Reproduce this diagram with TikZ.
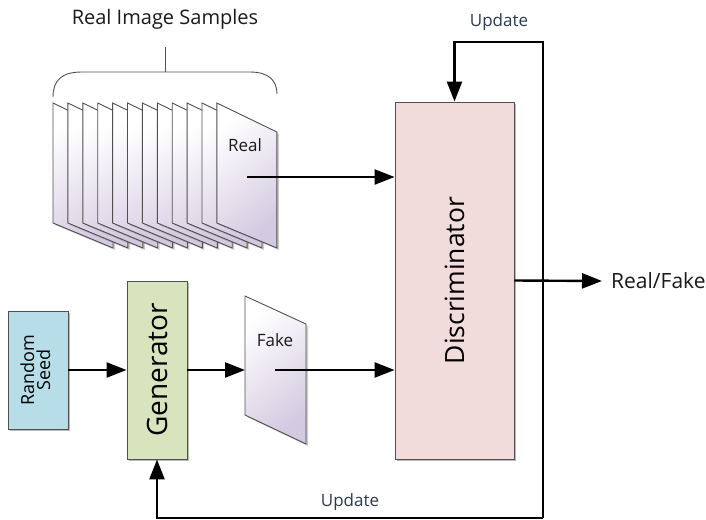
\documentclass[tikz,border=0pt]{standalone}
\usepackage{fontspec}
\setmainfont{Open Sans}
\usetikzlibrary{arrows.meta,shadows}
\definecolor{lav}{HTML}{D3C9E0}
\definecolor{discfill}{HTML}{F2DCDB}
\definecolor{genfill}{HTML}{D7E4BD}
\definecolor{seedfill}{HTML}{B7DEE8}
\definecolor{edge}{HTML}{505050}
\definecolor{txt}{HTML}{1A1A1A}
\definecolor{updtxt}{HTML}{2A3A4E}
\tikzset{
  box/.style={draw=edge, line width=0.9pt, inner sep=0pt,
    drop shadow={shadow xshift=2pt, shadow yshift=-2pt, opacity=0.45, fill=black!60}},
  sheet/.style={draw=edge, line width=0.9pt, top color=white, bottom color=lav, shading angle=40},
  arr/.style={line width=2.4pt, -{Triangle[length=20pt,width=15pt]}},
  lbl/.style={text=txt, inner sep=0pt}
}
\begin{document}
\begin{tikzpicture}[x=1pt,y=-1pt]
\useasboundingbox (0,0) rectangle (706,519);

% real image stack
\foreach \i in {0,...,11}{
  \pgfmathsetmacro{\xo}{53+\i*14.9}
  \fill[black!50, opacity=0.4] (\xo+2,105) -- (\xo+62,134) -- (\xo+62,250) -- (\xo+2,225) -- cycle;
  \path[sheet] (\xo,103) -- (\xo+60,132) -- (\xo+60,248) -- (\xo,223) -- cycle;
}
\node[lbl, font=\fontsize{17}{19}\selectfont] (reallbl) at (245,145) {Real};
\coordinate (realsrc) at (247,177);

% brace
\draw[edge, line width=0.9pt] (53,97) .. controls (53,80) and (62,72) .. (82,72) -- (250,72) .. controls (268,72) and (277,80) .. (277,94);
\coordinate (bracetop) at (165,72);
\coordinate (bracetick) at (165,47);
\draw[edge, line width=0.9pt] (bracetop) -- (bracetick);
\node[lbl, font=\fontsize{20}{22}\selectfont] (samples) at (165,19) {Real Image Samples};

% discriminator
\node[box, fill=discfill, minimum width=119pt, minimum height=357pt] (disc) at (454.5,280.5)
  {\fontsize{26.5}{28}\selectfont\rotatebox{90}{Discriminator}};

% generator
\node[box, fill=genfill, minimum width=60pt, minimum height=178pt] (gen) at (157,370)
  {\fontsize{28}{30}\selectfont\rotatebox{90}{Generator}};

% random seed
\node[box, fill=seedfill, minimum width=60pt, minimum height=118pt] (seed) at (38,370)
  {\fontsize{18}{20}\selectfont\rotatebox{90}{\begin{tabular}{@{}c@{}}Random\\[-4pt]Seed\end{tabular}}};

% fake sample
\fill[black!50, opacity=0.4] (247,298) -- (308,326) -- (308,446) -- (247,417) -- cycle;
\path[sheet] (245,296) -- (306,324) -- (306,444) -- (245,415) -- cycle;
\node[lbl, font=\fontsize{17}{19}\selectfont] (fakelbl) at (275,340) {Fake};
\coordinate (fakesrc) at (275,370);
\coordinate (fakein) at (245,370);

% output label
\node[lbl, font=\fontsize{21}{23}\selectfont, anchor=west] (rf) at (611,281) {Real/Fake};

% feedback loop
\coordinate (loopbr) at (543,518);
\coordinate (looptr) at (543,42);
\node[lbl, text=updtxt, font=\fontsize{17}{19}\selectfont] (upd1) at (499,22) {Update};
\node[lbl, text=updtxt, font=\fontsize{17}{19}\selectfont] (upd2) at (350,502) {Update};

\draw[arr] (loopbr) -- (looptr) -| (disc.north);
\draw[arr] (loopbr) -| (gen.south);

% data flow arrows
\draw[arr] (realsrc) -- (disc.west |- realsrc);
\draw[arr] (fakesrc) -- (disc.west |- fakesrc);
\draw[arr] (seed.east) -- (gen.west);
\draw[arr] (gen.east) -- (fakein);
\draw[arr] (disc.east) -- ([xshift=-9pt]rf.west);
\end{tikzpicture}
\end{document}
